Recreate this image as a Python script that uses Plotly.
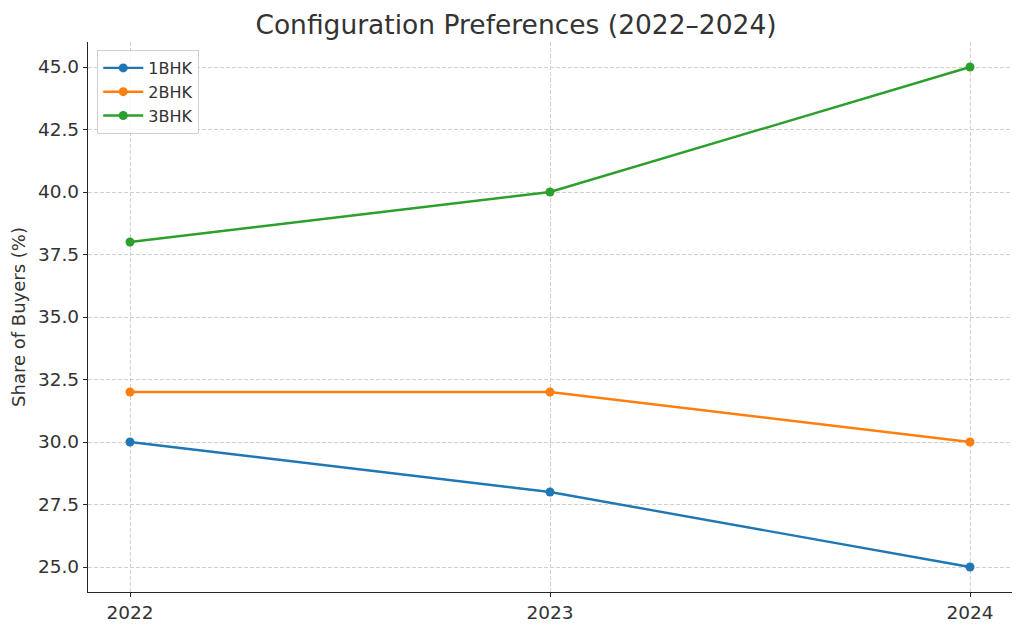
import plotly.graph_objects as go

years = [2022, 2023, 2024]
series_names = ["1BHK", "2BHK", "3BHK"]
bhk1 = [30, 28, 25]
bhk2 = [32, 32, 30]
bhk3 = [38, 40, 45]
colors = ["#1f77b4", "#ff7f0e", "#2ca02c"]
y_ticks = [25.0, 27.5, 30.0, 32.5, 35.0, 37.5, 40.0, 42.5, 45.0]

fig = go.Figure()
for name, vals, c in zip(series_names, [bhk1, bhk2, bhk3], colors):
    fig.add_trace(go.Scatter(x=years, y=vals, mode="lines+markers", name=name,
                             line=dict(color=c, width=2.4),
                             marker=dict(color=c, size=9)))

axis_common = dict(
    showgrid=True, gridcolor="#d0d0d0", griddash="4px,2px", gridwidth=1,
    showline=True, linecolor="#262626", linewidth=1.3,
    ticks="outside", ticklen=4, tickcolor="#262626", tickwidth=1.2,
    zeroline=False, tickfont=dict(size=18.5, color="#333333"), automargin=False,
)

fig.update_layout(
    width=1016, height=622,
    paper_bgcolor="white", plot_bgcolor="white",
    font=dict(family="DejaVu Sans", color="#333333"),
    margin=dict(l=80, r=12, t=34, b=38),
    title=dict(text="Configuration Preferences (2022–2024)", x=0.5, xanchor="center",
               y=0.973, yanchor="middle", font=dict(size=26.5, color="#333333")),
    xaxis=dict(range=[2021.9, 2024.1], tickvals=years, ticktext=[str(y) for y in years], **axis_common),
    yaxis=dict(range=[24, 46], tickvals=y_ticks, ticktext=[f"{v:.1f}" for v in y_ticks],
               title=dict(text="Share of Buyers (%)", font=dict(size=18, color="#333333"), standoff=8),
               **axis_common),
    legend=dict(x=0.01, y=0.9855, xanchor="left", yanchor="top", itemwidth=40,
                bgcolor="rgba(255,255,255,0.8)", bordercolor="#d0d0d0", borderwidth=1,
                font=dict(size=16, color="#333333")),
    showlegend=True,
)

fig.write_html("out.html")
